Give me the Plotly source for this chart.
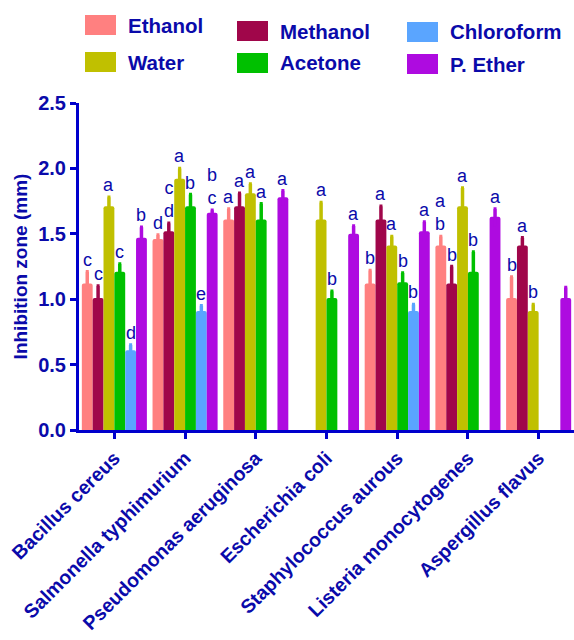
import plotly.graph_objects as go

# Test organisms (x categories)
categories = [
    "Bacillus cereus",
    "Salmonella typhimurium",
    "Pseudomonas aeruginosa",
    "Escherichia coli",
    "Staphylococcus aurous",
    "Listeria monocytogenes",
    "Aspergillus flavus",
]

# Extract names, in bar order within each group
extracts = ["Ethanol", "Methanol", "Water", "Acetone", "Chloroform", "P. Ether"]
colors = ["#FF8080", "#A0064A", "#C0C000", "#00C000", "#5AA5FF", "#AE0BE0"]

# Mean inhibition zone (mm) and error per extract
ethanol = [1.12, 1.46, 1.61, None, 1.12, 1.41, 1.01]
ethanol_err = [0.09, 0.03, 0.08, None, 0.10, 0.07, 0.16]
methanol = [1.01, 1.52, 1.71, None, 1.61, 1.12, 1.41]
methanol_err = [0.09, 0.06, 0.10, None, 0.10, 0.13, 0.06]
water = [1.71, 1.92, 1.81, 1.61, 1.41, 1.71, 0.91]
water_err = [0.07, 0.08, 0.07, 0.13, 0.07, 0.14, 0.05]
acetone = [1.21, 1.71, 1.61, 1.01, 1.13, 1.21, None]
acetone_err = [0.06, 0.09, 0.12, 0.05, 0.07, 0.15, None]
chloroform = [0.61, 0.91, None, None, 0.91, None, None]
chloroform_err = [0.04, 0.04, None, None, 0.05, None, None]
ether = [1.47, 1.66, 1.78, 1.50, 1.52, 1.63, 1.01]
ether_err = [0.08, 0.02, 0.05, 0.06, 0.07, 0.06, 0.08]

# Significance letters above each bar
ethanol_sig = ["c", "d", "a", "", "b", "a<br>b", "b"]
methanol_sig = ["c", "c<br>d", "a", "", "a", "b", "a"]
water_sig = ["a", "a", "a", "a", "a", "a", "b"]
acetone_sig = ["c", "b", "a", "b", "b", "b", ""]
chloroform_sig = ["d", "e", "", "", "b", "", ""]
ether_sig = ["b", "b<br>c", "a", "a", "a", "a", ""]

y_ticks = [0.0, 0.5, 1.0, 1.5, 2.0, 2.5]

values = [ethanol, methanol, water, acetone, chloroform, ether]
errors = [ethanol_err, methanol_err, water_err, acetone_err, chloroform_err, ether_err]
letters = [ethanol_sig, methanol_sig, water_sig, acetone_sig, chloroform_sig, ether_sig]

TEXT = "#0A0AAA"
AXIS = "#0000CC"
FONT = "Liberation Sans, Arial, sans-serif"
BARGAP = 0.08

W, H = 574, 640
L, R, T, B = 79, 0, 103, 210

fig = go.Figure()
for name, col, vals, errs in zip(extracts, colors, values, errors):
    fig.add_trace(go.Bar(
        name=name,
        x=categories,
        y=vals,
        marker=dict(color=col, line=dict(width=0), cornerradius=2),
        error_y=dict(type="data", array=errs, visible=True,
                     color=col, thickness=3.5, width=1.5),
        showlegend=False,
    ))

# Letters sit above the error bar of each bar
n = len(extracts)
bw = (1 - BARGAP) / n
annotations = []
for i, (vals, errs, sigs) in enumerate(zip(values, errors, letters)):
    off = -(1 - BARGAP) / 2 + (i + 0.5) * bw
    for j, (v, e, s) in enumerate(zip(vals, errs, sigs)):
        if v is None or not s:
            continue
        annotations.append(dict(
            x=j + off, y=v + (e or 0), xref="x", yref="y",
            text=s, showarrow=False, yanchor="bottom", xanchor="center",
            yshift=0, font=dict(family=FONT, size=18, color=TEXT),
        ))

# Legend drawn as swatches + labels laid out in three columns
pw, ph = W - L - R, H - T - B


def px(xp):
    return (xp - L) / pw


def py(yp):
    return (H - B - yp) / ph


legend_pos = {
    "Ethanol": (85, 15),
    "Water": (85, 52),
    "Methanol": (237, 21),
    "Acetone": (237, 53),
    "Chloroform": (407, 22),
    "P. Ether": (407, 54),
}
shapes = []
for name, col in zip(extracts, colors):
    x0, y0 = legend_pos[name]
    shapes.append(dict(type="rect", xref="paper", yref="paper",
                       x0=px(x0), x1=px(x0 + 31), y0=py(y0 + 20), y1=py(y0),
                       fillcolor=col, line=dict(width=0), layer="above"))
    annotations.append(dict(
        x=px(x0 + 41), y=py(y0 + 10), xref="paper", yref="paper",
        text=name, showarrow=False, xanchor="left", yanchor="middle",
        font=dict(family=FONT, size=20.5, color=TEXT, weight=700),
    ))

fig.update_layout(
    width=W, height=H,
    margin=dict(l=L, r=R, t=T, b=B, pad=0, autoexpand=False),
    paper_bgcolor="white", plot_bgcolor="white",
    barmode="group", bargap=BARGAP, bargroupgap=0,
    shapes=shapes, annotations=annotations,
    font=dict(family=FONT, color=TEXT),
    xaxis=dict(
        type="category", categoryorder="array", categoryarray=categories,
        range=[-0.5, len(categories) - 0.5], automargin=False,
        showline=True, linecolor=AXIS, linewidth=3,
        ticks="outside", ticklen=6, tickwidth=3, tickcolor=AXIS,
        tickangle=-45, showgrid=False, zeroline=False,
        tickfont=dict(family=FONT, size=19.5, color=TEXT, weight=700),
    ),
    yaxis=dict(
        range=[0, 2.5], tickvals=y_ticks, automargin=False,
        ticktext=[f"{v:.1f}" for v in y_ticks],
        showline=True, linecolor=AXIS, linewidth=3,
        ticks="outside", ticklen=6, tickwidth=3, tickcolor=AXIS,
        showgrid=False, zeroline=False,
        tickfont=dict(family=FONT, size=20, color=TEXT, weight=700),
        title=dict(text="Inhibition zone (mm)", standoff=6,
                   font=dict(family=FONT, size=19, color=TEXT, weight=700)),
    ),
)

fig.write_html("out.html")
